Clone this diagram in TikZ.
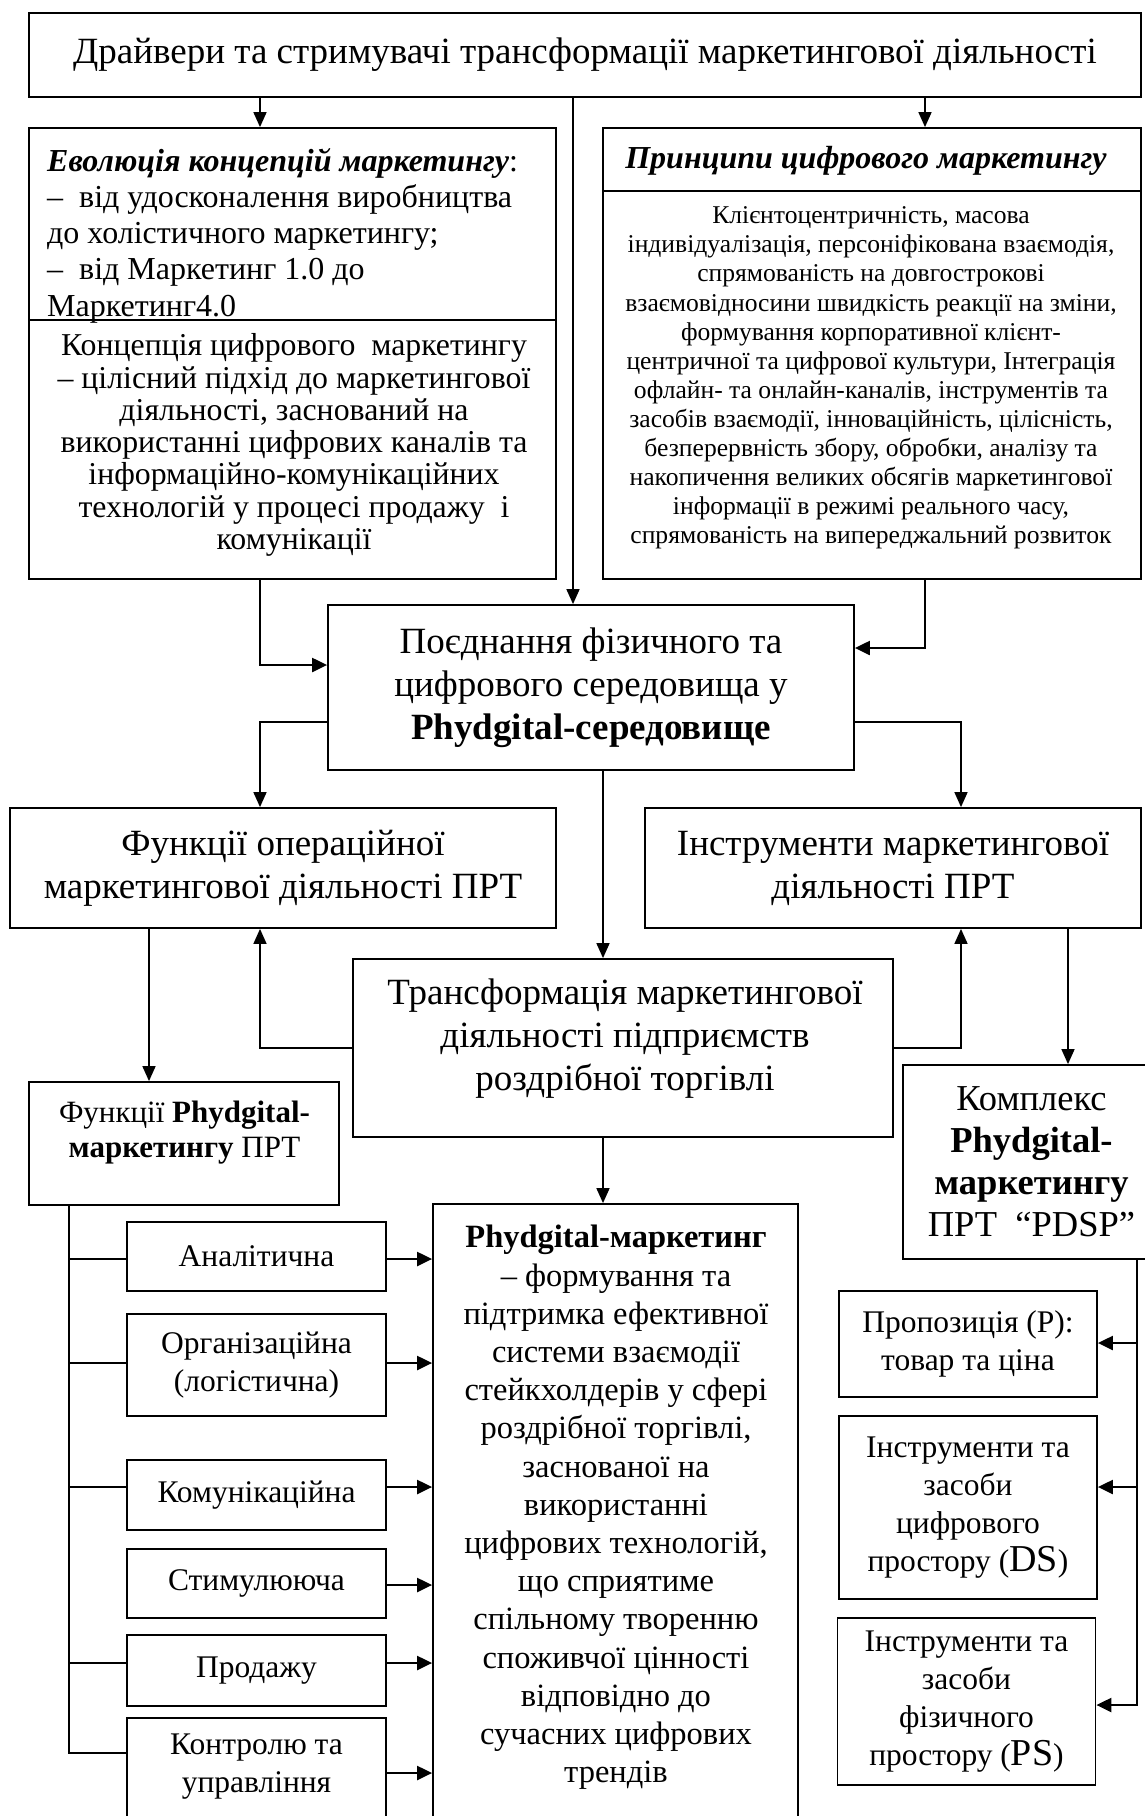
\documentclass[tikz,border=0pt]{standalone}
\usepackage{fontspec}
\setmainfont{Liberation Serif}
\usetikzlibrary{arrows.meta}
\begin{document}
\begin{tikzpicture}[x=1pt,y=-1pt,
  box/.style={draw, line width=1.8pt, inner sep=0pt, align=center},
  txt/.style={inner sep=0pt, align=center},
  ftitle/.style={font=\fontsize{37}{42}\selectfont},
  fevol/.style={font=\fontsize{32}{36.3}\selectfont},
  fconc/.style={font=\fontsize{31.8}{32.3}\selectfont},
  fprinh/.style={font=\fontsize{32}{36}\selectfont},
  fprin/.style={font=\fontsize{25.6}{29.1}\selectfont},
  fbig/.style={font=\fontsize{37}{43}\selectfont},
  ffunph/.style={font=\fontsize{31}{35}\selectfont},
  fkompl/.style={font=\fontsize{36.5}{42}\selectfont},
  fphm/.style={font=\fontsize{32.5}{38.2}\selectfont},
  fsub/.style={font=\fontsize{31.5}{38}\selectfont},
  sbox/.style={box, fsub, minimum width=259pt},
  rbox/.style={box, fsub, minimum width=258pt},
  conn/.style={line width=1.6pt},
  arr/.style={line width=1.6pt, -{Triangle[length=15pt,width=13pt]}},
  harr/.style={line width=2.2pt, -{Triangle[length=15pt,width=14pt]}},
  sepline/.style={line width=1.8pt}
]
\useasboundingbox (0,0) rectangle (1144,1816);
\fill[white] (0,0) rectangle (1144,1816);

% ---------- boxes ----------
\node[box, ftitle, minimum width=1112pt, minimum height=84pt] (top) at (585,55)
  {Драйвери та стримувачі трансформації маркетингової діяльності};

\node[box, minimum width=527pt, minimum height=451pt] (evol) at (292.5,353.5) {};
\coordinate (sepE) at (0,320);
\draw[sepline] (evol.west |- sepE) -- (evol.east |- sepE);
\node[txt, fevol, anchor=west, align=left] (evoltxt) at (47,235.5)
  {\textbf{\textit{Еволюція концепцій маркетингу}}:\\
   –\ \ від удосконалення виробництва\\
   до холістичного маркетингу;\\
   –\ \ від Маркетинг 1.0 до\\
   Маркетинг4.0};
\node[txt, fconc] (conctxt) at (294,445)
  {Концепція цифрового\ \ маркетингу\\
   – цілісний підхід до маркетингової\\
   діяльності, заснований на\\
   використанні цифрових каналів та\\
   інформаційно-комунікаційних\\
   технологій у процесі продажу\ \ і\\
   комунікації};

\node[box, minimum width=538pt, minimum height=451pt] (prin) at (872,353.5) {};
\coordinate (sepP) at (0,191);
\draw[sepline] (prin.west |- sepP) -- (prin.east |- sepP);
\node[txt, fprinh] (prinh) at (866,161) {\textbf{\textit{Принципи цифрового маркетингу}}};
\node[txt, fprin] (prinb) at (871,378)
  {Клієнтоцентричність, масова\\
   індивідуалізація, персоніфікована взаємодія,\\
   спрямованість на довгострокові\\
   взаємовідносини швидкість реакції на зміни,\\
   формування корпоративної клієнт-\\
   центричної та цифрової культури, Інтеграція\\
   офлайн- та онлайн-каналів, інструментів та\\
   засобів взаємодії, інноваційність, цілісність,\\
   безперервність збору, обробки, аналізу та\\
   накопичення великих обсягів маркетингової\\
   інформації в режимі реального часу,\\
   спрямованість на випереджальний розвиток};

\node[box, fbig, minimum width=526pt, minimum height=165pt] (pojed) at (591,687.5)
  {Поєднання фізичного та\\цифрового середовища у\\\textbf{Phydgital-середовище}};

\node[box, fbig, minimum width=546pt, minimum height=120pt] (funop) at (283,868)
  {Функції операційної\\маркетингової діяльності ПРТ};
\node[box, fbig, minimum width=496pt, minimum height=120pt] (instr) at (893,868)
  {Інструменти маркетингової\\діяльності ПРТ};

\node[box, minimum width=540pt, minimum height=178pt] (trans) at (623,1048) {};
\node[txt, fbig] (transtxt) at (625,1039)
  {Трансформація маркетингової\\діяльності підприємств\\роздрібної торгівлі};

\node[box, minimum width=310pt, minimum height=123pt] (funph) at (184,1143.5) {};
\node[txt, ffunph] (funphtxt) at (184.5,1132.5)
  {Функції \textbf{Phydgital-}\\\textbf{маркетингу} ПРТ};

\node[box, fkompl, minimum width=257pt, minimum height=194pt] (kompl) at (1031.5,1162)
  {Комплекс\\\textbf{Phydgital-}\\\textbf{маркетингу}\\ПРТ\ \ “PDSP”};

\node[box, minimum width=365pt, minimum height=626pt] (phm) at (615.5,1517) {};
\node[txt, fphm] (phmtxt) at (616,1507.5)
  {\textbf{Phydgital-маркетинг}\\
   – формування та\\
   підтримка ефективної\\
   системи взаємодії\\
   стейкхолдерів у сфері\\
   роздрібної торгівлі,\\
   заснованої на\\
   використанні\\
   цифрових технологій,\\
   що сприятиме\\
   спільному творенню\\
   споживчої цінності\\
   відповідно до\\
   сучасних цифрових\\
   трендів};

\node[sbox, minimum height=69pt] (anal) at (256.5,1256.5) {Аналітична};
\node[sbox, minimum height=102pt] (org) at (256.5,1365) {Організаційна\\(логістична)};
\node[sbox, minimum height=70pt] (kom) at (256.5,1495) {Комунікаційна};
\node[sbox, minimum height=69pt] (stim) at (256.5,1583.5) {Стимулююча};
\node[sbox, minimum height=71pt] (prod) at (256.5,1670.5) {Продажу};
\node[sbox, minimum height=122pt] (kontr) at (256.5,1779) {};
\node[txt, fsub] (kontrtxt) at (256.5,1766.5) {Контролю та\\управління};

\node[rbox, minimum height=106pt] (prop) at (968,1344) {Пропозиція (P):\\товар та ціна};
\node[rbox, minimum height=183pt] (ds) at (968,1507.5)
  {Інструменти та\\засоби\\цифрового\\простору ({\fontsize{38}{38}\selectfont DS})};
\node[rbox, minimum height=167pt] (ps) at (966.5,1701.5)
  {Інструменти та\\засоби\\фізичного\\простору ({\fontsize{38}{38}\selectfont PS})};

% ---------- helper coordinates ----------
\coordinate (xA) at (260,0);
\coordinate (xB) at (925,0);
\coordinate (xC) at (573,0);
\coordinate (xD) at (603,0);
\coordinate (xE) at (961,0);
\coordinate (xF) at (149,0);
\coordinate (xG) at (1068,0);
\coordinate (xH) at (69,0);
\coordinate (xI) at (1137,0);
\coordinate (yA) at (0,665);
\coordinate (yB) at (0,648);
\coordinate (yC) at (0,722);
\coordinate (yD) at (0,1048);
\coordinate (b1) at (0,1259);
\coordinate (b2) at (0,1363);
\coordinate (b3) at (0,1487);
\coordinate (b4) at (0,1663);
\coordinate (b5) at (0,1753);
\coordinate (a1) at (0,1259);
\coordinate (a2) at (0,1363);
\coordinate (a3) at (0,1487);
\coordinate (a4) at (0,1585);
\coordinate (a5) at (0,1663);
\coordinate (a6) at (0,1773);
\coordinate (r1) at (0,1343);
\coordinate (r2) at (0,1487);
\coordinate (r3) at (0,1705);

% ---------- connectors ----------
\draw[arr] (top.south -| xA) -- (evol.north -| xA);
\draw[arr] (top.south -| xB) -- (prin.north -| xB);
\draw[arr] (top.south -| xC) -- (pojed.north -| xC);
\draw[harr] (evol.south -| xA) |- (pojed.west |- yA);
\draw[harr] (prin.south -| xB) |- (pojed.east |- yB);
\draw[arr] (pojed.west |- yC) -| (funop.north -| xA);
\draw[arr] (pojed.east |- yC) -| (instr.north -| xE);
\draw[arr] (pojed.south -| xD) -- (trans.north -| xD);
\draw[arr] (trans.west |- yD) -| (funop.south -| xA);
\draw[arr] (trans.east |- yD) -| (instr.south -| xE);
\draw[arr] (funop.south -| xF) -- (funph.north -| xF);
\draw[arr] (instr.south -| xG) -- (kompl.north -| xG);
\draw[arr] (trans.south -| xD) -- (phm.north -| xD);

\draw[conn] (funph.south -| xH) |- (kontr.west |- b5);
\draw[conn] (xH |- b1) -- (anal.west |- b1);
\draw[conn] (xH |- b2) -- (org.west |- b2);
\draw[conn] (xH |- b3) -- (kom.west |- b3);
\draw[conn] (xH |- b4) -- (prod.west |- b4);

\draw[harr] (anal.east |- a1) -- (phm.west |- a1);
\draw[harr] (org.east |- a2) -- (phm.west |- a2);
\draw[harr] (kom.east |- a3) -- (phm.west |- a3);
\draw[harr] (stim.east |- a4) -- (phm.west |- a4);
\draw[harr] (prod.east |- a5) -- (phm.west |- a5);
\draw[harr] (kontr.east |- a6) -- (phm.west |- a6);

\draw[harr] (kompl.south -| xI) |- (ps.east |- r3);
\draw[harr] (xI |- r1) -- (prop.east |- r1);
\draw[harr] (xI |- r2) -- (ds.east |- r2);
\end{tikzpicture}
\end{document}
